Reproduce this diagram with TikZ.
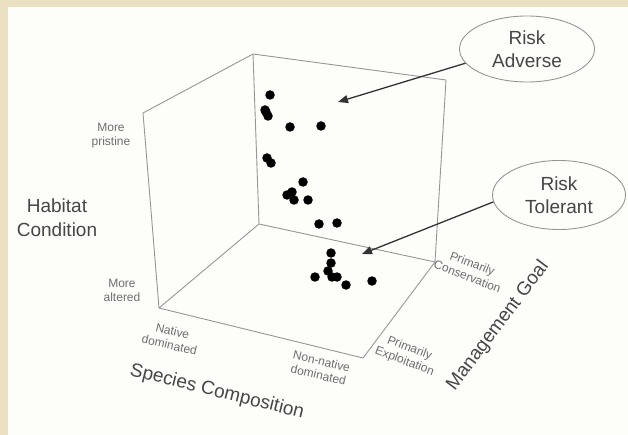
\documentclass[tikz,border=0pt]{standalone}
\usepackage{fontspec}
\setmainfont{Liberation Sans}
\usetikzlibrary{shapes.geometric,arrows.meta}
\definecolor{beige}{RGB}{236,224,194}
\definecolor{paper}{RGB}{253,253,250}
\definecolor{edgegray}{RGB}{150,150,150}
\definecolor{labgray}{RGB}{110,110,110}
\definecolor{axgray}{RGB}{70,70,70}
\begin{document}
\begin{tikzpicture}[x=1pt,y=-1pt,
  cubeedge/.style={draw=edgegray,line width=0.9pt},
  dot/.style={circle,fill=black,inner sep=0pt,minimum size=9.5pt},
  smalllab/.style={text=labgray,font=\fontsize{12}{14}\selectfont,align=center,inner sep=0pt},
  axlab/.style={text=axgray,font=\fontsize{19}{24}\selectfont,align=center,inner sep=0pt},
  callout/.style={ellipse,draw=edgegray,line width=0.9pt,fill=paper,minimum width=135pt,minimum height=66pt,inner sep=0pt,text=axgray,font=\fontsize{19}{23}\selectfont,align=center},
  pointer/.style={draw=black!80,line width=1.3pt,-{Triangle[length=10pt,width=8pt]}}
]
\useasboundingbox (0,0) rectangle (628,435);
\fill[beige] (0,0) rectangle (628,435);
\fill[paper] (8,7) rectangle (628,435);

% cube corners
\coordinate (A) at (143,113);
\coordinate (B) at (253,54);
\coordinate (C) at (446,80);
\coordinate (L) at (159,308);
\coordinate (O) at (259,224);
\coordinate (R) at (435,262);
\coordinate (F) at (363,358);

\draw[cubeedge] (A) -- (B);
\draw[cubeedge] (B) -- (C);
\draw[cubeedge] (C) -- (R);
\draw[cubeedge] (A) -- (L);
\draw[cubeedge] (B) -- (O);
\draw[cubeedge] (L) -- (O);
\draw[cubeedge] (O) -- (R);
\draw[cubeedge] (L) -- (F);
\draw[cubeedge] (F) -- (R);

% dots
\foreach \n/\x/\y in {d1/270/95, d2/266/112, d3/268/116, d4/265/110, d5/290/127, d6/321/126,
  d7/267/158, d8/271/163, d9/303/182, d10/287/195, d11/292/192, d12/294/200, d13/308/200,
  d14/319/224, d15/337/223, d16/331/253, d17/331/263, d18/328/271, d19/315/277,
  d20/332/277, d21/337/277, d22/346/285, d23/372/281}
  \node[dot] (\n) at (\x,\y) {};

% labels
\node[axlab] (hab) at (57,218) {Habitat\\Condition};
\node[smalllab] (pris) at (111,136) {More\\pristine};
\node[smalllab] (alt) at (122,290) {More\\altered};
\node[smalllab,rotate=-13] (nat) at (171,338) {Native\\dominated};
\node[smalllab,rotate=-13] (nonnat) at (320,368) {Non-native\\dominated};
\node[axlab,rotate=-14] (spc) at (217,392) {Species Composition};
\node[smalllab,rotate=-21] (cons) at (470,270) {Primarily\\Conservation};
\node[smalllab,rotate=-21] (expl) at (407,355) {Primarily\\Exploitation};
\node[axlab,rotate=53] (mg) at (498,326) {Management Goal};

% callouts
\node[callout] (ra) at (527,49) {Risk\\Adverse};
\node[callout,minimum width=133pt,minimum height=69pt] (rt) at (559,195) {Risk\\Tolerant};
\coordinate (ta) at (338,102);
\coordinate (tt) at (362,254);
\draw[pointer] (ra.193) -- (ta);
\draw[pointer] (rt.186) -- (tt);
\end{tikzpicture}
\end{document}
